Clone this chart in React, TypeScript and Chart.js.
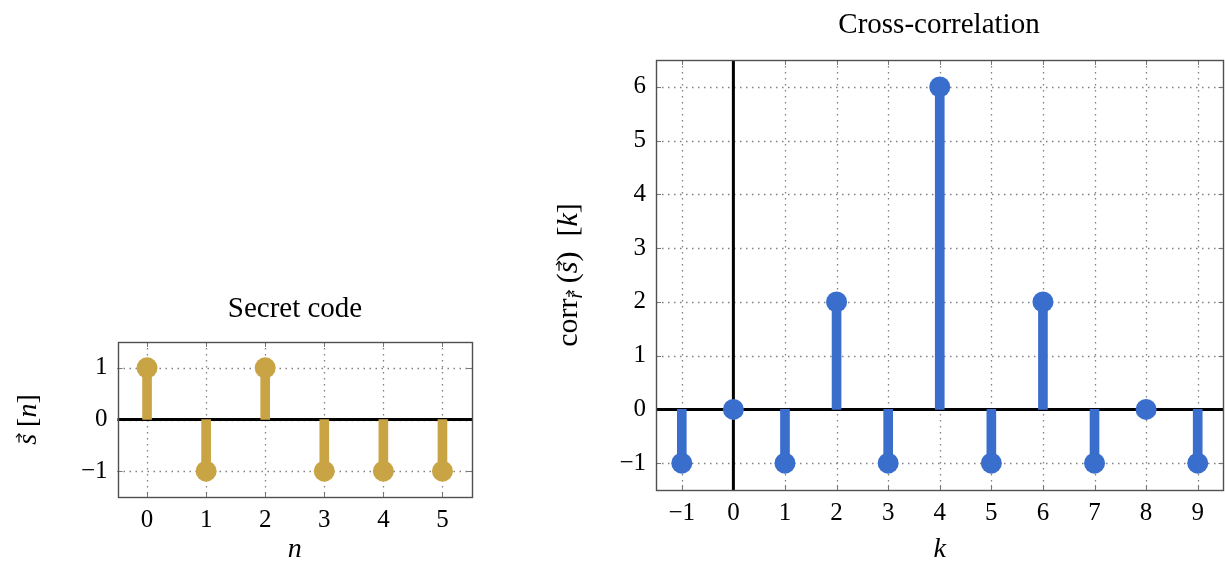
import React, { useEffect, useRef } from "react";
import { Chart, registerables } from "chart.js";
Chart.register(...registerables);

// ---- data ----
const codeIndex = [0, 1, 2, 3, 4, 5];
const codeValues = [1, -1, 1, -1, -1, -1];
const codeTicksX = [0, 1, 2, 3, 4, 5];
const codeTicksY = [-1, 0, 1];

const lagIndex = [-1, 0, 1, 2, 3, 4, 5, 6, 7, 8, 9];
const corrValues = [-1, 0, -1, 2, -1, 6, -1, 2, -1, 0, -1];
const corrTicksX = [-1, 0, 1, 2, 3, 4, 5, 6, 7, 8, 9];
const corrTicksY = [-1, 0, 1, 2, 3, 4, 5, 6];

const GOLD = "#C9A445";
const BLUE = "#3A6ECC";
const FONT = '"Liberation Serif", "DejaVu Serif", serif';

type Piece = { t: string; italic?: boolean; size?: number; dy?: number; arrow?: boolean };

const codeYLabel: Piece[] = [
  { t: "s", italic: true, arrow: true },
  { t: " [" },
  { t: "n", italic: true },
  { t: "]" },
];
const corrYLabel: Piece[] = [
  { t: "corr" },
  { t: "r", italic: true, size: 20, dy: 5, arrow: true },
  { t: " (" },
  { t: "s", italic: true, arrow: true },
  { t: ")  [" },
  { t: "k", italic: true },
  { t: "]" },
];

const fmt = (v: number) => (v < 0 ? "\u2212" + Math.abs(v) : String(v));

function drawRotated(ctx: CanvasRenderingContext2D, pieces: Piece[], bx: number, cy: number, base = 28) {
  ctx.save();
  ctx.translate(bx, cy);
  ctx.rotate(-Math.PI / 2);
  ctx.fillStyle = "#000";
  ctx.strokeStyle = "#000";
  ctx.textAlign = "left";
  ctx.textBaseline = "alphabetic";
  const fontOf = (p: Piece) => `${p.italic ? "italic " : ""}${p.size || base}px ${FONT}`;
  let total = 0;
  for (const p of pieces) {
    ctx.font = fontOf(p);
    total += ctx.measureText(p.t).width;
  }
  let x = -total / 2;
  for (const p of pieces) {
    ctx.font = fontOf(p);
    const w = ctx.measureText(p.t).width;
    const dy = p.dy || 0;
    ctx.fillText(p.t, x, dy);
    if (p.arrow) {
      const s = p.size || base;
      const ay = dy - s * 0.5 - 3;
      const x0 = x + w * 0.2;
      const x1 = x + w * 1.0;
      ctx.lineWidth = 1.2;
      ctx.beginPath();
      ctx.moveTo(x0, ay);
      ctx.lineTo(x1, ay);
      ctx.stroke();
      ctx.beginPath();
      ctx.moveTo(x1 - 3.5, ay - 3);
      ctx.lineTo(x1, ay);
      ctx.lineTo(x1 - 3.5, ay + 3);
      ctx.stroke();
    }
    x += w;
  }
  ctx.restore();
}

type Deco = {
  title: string;
  titleX: number;
  titleY: number;
  xLabel: string;
  xLabelY: number;
  yLabel: Piece[];
  yLabelX: number;
  yLabelSize: number;
  xTicks: number[];
  yTicks: number[];
  zeroV: boolean;
};

function decoPlugin(d: Deco) {
  return {
    id: "deco",
    beforeDatasetsDraw(chart: any) {
      const ctx: CanvasRenderingContext2D = chart.ctx;
      const a = chart.chartArea;
      const xs = chart.scales.x;
      const ys = chart.scales.y;
      ctx.save();
      // dotted grid
      ctx.strokeStyle = "#808080";
      ctx.lineWidth = 1.3;
      ctx.setLineDash([1.5, 4.5]);
      for (const v of d.xTicks) {
        const px = Math.round(xs.getPixelForValue(v)) + 0.5;
        ctx.beginPath();
        ctx.moveTo(px, a.top);
        ctx.lineTo(px, a.bottom);
        ctx.stroke();
      }
      for (const v of d.yTicks) {
        const py = Math.round(ys.getPixelForValue(v)) + 0.5;
        ctx.beginPath();
        ctx.moveTo(a.left, py);
        ctx.lineTo(a.right, py);
        ctx.stroke();
      }
      ctx.setLineDash([]);
      // inner tick marks
      ctx.strokeStyle = "#777";
      ctx.lineWidth = 1;
      const tl = 5;
      for (const v of d.xTicks) {
        const px = Math.round(xs.getPixelForValue(v)) + 0.5;
        ctx.beginPath();
        ctx.moveTo(px, a.top);
        ctx.lineTo(px, a.top + tl);
        ctx.moveTo(px, a.bottom);
        ctx.lineTo(px, a.bottom - tl);
        ctx.stroke();
      }
      for (const v of d.yTicks) {
        const py = Math.round(ys.getPixelForValue(v)) + 0.5;
        ctx.beginPath();
        ctx.moveTo(a.left, py);
        ctx.lineTo(a.left + tl, py);
        ctx.moveTo(a.right, py);
        ctx.lineTo(a.right - tl, py);
        ctx.stroke();
      }
      // zero axes
      ctx.strokeStyle = "#000";
      ctx.lineWidth = 3;
      const y0 = ys.getPixelForValue(0);
      ctx.beginPath();
      ctx.moveTo(a.left, y0);
      ctx.lineTo(a.right, y0);
      ctx.stroke();
      if (d.zeroV) {
        const x0 = xs.getPixelForValue(0);
        ctx.beginPath();
        ctx.moveTo(x0, a.top);
        ctx.lineTo(x0, a.bottom);
        ctx.stroke();
      }
      ctx.restore();
    },
    afterDraw(chart: any) {
      const ctx: CanvasRenderingContext2D = chart.ctx;
      const a = chart.chartArea;
      ctx.save();
      ctx.strokeStyle = "#505050";
      ctx.lineWidth = 1.4;
      ctx.strokeRect(Math.round(a.left) + 0.5, Math.round(a.top) + 0.5, Math.round(a.right - a.left) - 1, Math.round(a.bottom - a.top));
      ctx.fillStyle = "#000";
      ctx.textAlign = "center";
      ctx.textBaseline = "alphabetic";
      ctx.font = `29px ${FONT}`;
      ctx.fillText(d.title, d.titleX, d.titleY);
      ctx.font = `italic 28px ${FONT}`;
      ctx.fillText(d.xLabel, (a.left + a.right) / 2, d.xLabelY);
      drawRotated(ctx, d.yLabel, d.yLabelX, (a.top + a.bottom) / 2, d.yLabelSize);
      ctx.restore();
    },
  };
}

function makeConfig(
  xVals: number[],
  yVals: number[],
  color: string,
  xMin: number,
  xMax: number,
  yMin: number,
  yMax: number,
  xTicks: number[],
  yTicks: number[],
  padding: any,
  yWidth: number,
  xHeight: number,
  radius: number,
  deco: Deco
): any {
  const pts = xVals.map((x, i) => ({ x, y: yVals[i] }));
  return {
    type: "bar",
    data: {
      datasets: [
        {
          type: "scatter",
          data: pts,
          backgroundColor: color,
          borderWidth: 0,
          pointRadius: radius,
          pointHoverRadius: radius,
          order: 0,
        },
        {
          type: "bar",
          data: pts,
          backgroundColor: color,
          borderWidth: 0,
          barThickness: 9,
          order: 1,
        },
      ],
    },
    options: {
      responsive: false,
      animation: false,
      events: [],
      devicePixelRatio: 1,
      layout: { padding, autoPadding: false },
      plugins: { legend: { display: false }, tooltip: { enabled: false }, title: { display: false } },
      scales: {
        x: {
          type: "linear",
          min: xMin,
          max: xMax,
          offset: false,
          grid: { display: false, drawTicks: false },
          border: { display: false },
          afterBuildTicks: (s: any) => {
            s.ticks = xTicks.map((v) => ({ value: v }));
          },
          afterFit: (s: any) => {
            s.height = xHeight;
          },
          ticks: {
            autoSkip: false,
            maxRotation: 0,
            padding: 8,
            color: "#000",
            font: { family: FONT, size: 25 },
            callback: (v: any) => fmt(Number(v)),
          },
        },
        y: {
          type: "linear",
          min: yMin,
          max: yMax,
          grid: { display: false, drawTicks: false },
          border: { display: false },
          afterBuildTicks: (s: any) => {
            s.ticks = yTicks.map((v) => ({ value: v }));
          },
          afterFit: (s: any) => {
            s.width = yWidth;
          },
          ticks: {
            autoSkip: false,
            padding: 10,
            color: "#000",
            font: { family: FONT, size: 25 },
            callback: (v: any) => fmt(Number(v)),
          },
        },
      },
    },
    plugins: [decoPlugin(deco)],
  };
}

export default function App() {
  const leftRef = useRef<HTMLCanvasElement>(null);
  const rightRef = useRef<HTMLCanvasElement>(null);

  useEffect(() => {
    const left = new Chart(
      leftRef.current!,
      makeConfig(codeIndex, codeValues, GOLD, -0.5, 5.5, -1.5, 1.5, codeTicksX, codeTicksY,
        { top: 62, right: 18, left: 0, bottom: 0 }, 117.5, 64, 10.5,
        {
          title: "Secret code", titleX: 295, titleY: 37, xLabel: "n", xLabelY: 277,
          yLabel: codeYLabel, yLabelX: 36, yLabelSize: 28, xTicks: codeTicksX, yTicks: codeTicksY, zeroV: false,
        })
    );
    const right = new Chart(
      rightRef.current!,
      makeConfig(lagIndex, corrValues, BLUE, -1.5, 9.5, -1.5, 6.5, corrTicksX, corrTicksY,
        { top: 60, right: 1.5, left: 0, bottom: 0 }, 116, 71, 10.5,
        {
          title: "Cross-correlation", titleX: 399, titleY: 33, xLabel: "k", xLabelY: 557,
          yLabel: corrYLabel, yLabelX: 37, yLabelSize: 30, xTicks: corrTicksX, yTicks: corrTicksY, zeroV: true,
        })
    );
    return () => {
      left.destroy();
      right.destroy();
    };
  }, []);

  return (
    <div style={{ position: "fixed", left: 0, top: 0, width: 1225, height: 561, background: "#fff" }}>
      <canvas ref={leftRef} width={490} height={281} style={{ position: "absolute", left: 0, top: 280, width: 490, height: 281 }} />
      <canvas ref={rightRef} width={685} height={561} style={{ position: "absolute", left: 540, top: 0, width: 685, height: 561 }} />
    </div>
  );
}
